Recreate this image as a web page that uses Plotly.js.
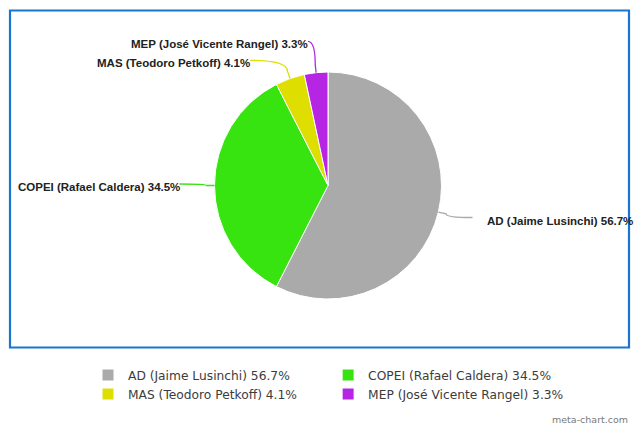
<!DOCTYPE html>
<html><head><meta charset="utf-8">
<script src="https://cdn.plot.ly/plotly-3.0.1.min.js"></script>
<style>html,body{margin:0;padding:0;background:#fff}#chart{width:640px;height:427px}</style>
</head><body><div id="chart"></div>
<script>
const parties = ['AD (Jaime Lusinchi)', 'COPEI (Rafael Caldera)', 'MAS (Teodoro Petkoff)', 'MEP (José Vicente Rangel)'];
const shares = [56.7, 34.5, 4.1, 3.3];
const sliceColors = ['#aaaaaa', '#37e40f', '#dedf00', '#b625e4'];

const W = 640, H = 427;
const CX = 328, CY = 185.5, R = 113.5;
const LABEL_DIST = 30, LABEL_PAD = 5, LABEL_GAP = 19;

const labelTexts = parties.map((p, i) => p + ' ' + shares[i].toFixed(1) + '%');
const px = x => x / W;
const py = y => 1 - y / H;

const total = shares.reduce((a, b) => a + b, 0);
let cum = 0;
const pts = shares.map((v, i) => {
  const mid = (cum + v / 2) / total * 2 * Math.PI; cum += v;
  const s = Math.sin(mid), c = Math.cos(mid);
  return {i, s, c, left: s < 0,
    edge: [CX + R * s, CY - R * c],
    brk: [CX + (R + 8) * s, CY - (R + 8) * c],
    y: CY - (R + LABEL_DIST) * c};
});
[true, false].forEach(side => {
  const group = pts.filter(p => p.left === side).sort((a, b) => a.y - b.y);
  for (let k = 1; k < group.length; k++) {
    if (group[k].y - group[k - 1].y < LABEL_GAP) group[k].y = group[k - 1].y + LABEL_GAP;
  }
});

const shapes = [];
const annotations = [];
pts.forEach(p => {
  const dir = p.left ? -1 : 1;
  const dy = p.y - CY;
  const rr = R + LABEL_DIST;
  const ex = CX + dir * (Math.sqrt(Math.max(0, rr * rr - dy * dy)) + LABEL_PAD);
  const ey = p.y - 1.5;
  let kx = p.brk[0] - dir * 12;
  if (dir * (kx - ex) < 0) kx = ex;
  const path = `M ${px(ex)} ${py(ey)} L ${px(kx)} ${py(ey)} Q ${px(p.brk[0])} ${py(ey)} ${px(p.brk[0])} ${py(p.brk[1])} L ${px(p.edge[0])} ${py(p.edge[1])}`;
  shapes.push({type: 'path', xref: 'paper', yref: 'paper', layer: 'above', path: path,
    fillcolor: 'rgba(0,0,0,0)',
    line: {color: sliceColors[p.i], width: 1.3}});
  annotations.push({xref: 'paper', yref: 'paper', showarrow: false,
    x: px(p.left ? ex + 2 : ex + 12), y: py(ey + 3),
    xanchor: p.left ? 'right' : 'left', yanchor: 'middle',
    text: '<b>' + labelTexts[p.i] + '</b>',
    font: {family: 'Liberation Sans, Arial, sans-serif', size: 11.5, color: '#222222'}});
});

shapes.push({type: 'rect', xref: 'paper', yref: 'paper', layer: 'above',
  x0: px(10), x1: px(629), y0: py(347.5), y1: py(10.5),
  line: {color: '#1b74cd', width: 2.2}});

annotations.push({xref: 'paper', yref: 'paper', showarrow: false,
  x: px(630), y: py(419), xanchor: 'right', yanchor: 'middle',
  text: 'meta-chart.com',
  font: {family: 'DejaVu Sans, sans-serif', size: 9.5, color: '#7a7a7a'}});

const trace = {
  type: 'pie', labels: labelTexts, values: shares, sort: false,
  direction: 'clockwise', rotation: 0, textinfo: 'none', hoverinfo: 'label',
  marker: {colors: sliceColors, line: {color: '#ffffff', width: 1}},
  domain: {x: [px(CX - R), px(CX + R)], y: [py(CY + R), py(CY - R)]}
};

const layout = {
  width: W, height: H, margin: {l: 0, r: 0, t: 0, b: 0},
  paper_bgcolor: '#ffffff', plot_bgcolor: '#ffffff',
  showlegend: true,
  legend: {orientation: 'h', x: px(88), xanchor: 'left', y: py(360.5), yanchor: 'top',
    bgcolor: 'rgba(0,0,0,0)', traceorder: 'normal',
    font: {family: 'DejaVu Sans, sans-serif', size: 12.25, color: '#3c3c3c'}},
  shapes: shapes, annotations: annotations
};

Plotly.newPlot('chart', [trace], layout, {staticPlot: true, displayModeBar: false});
</script>
</body></html>
